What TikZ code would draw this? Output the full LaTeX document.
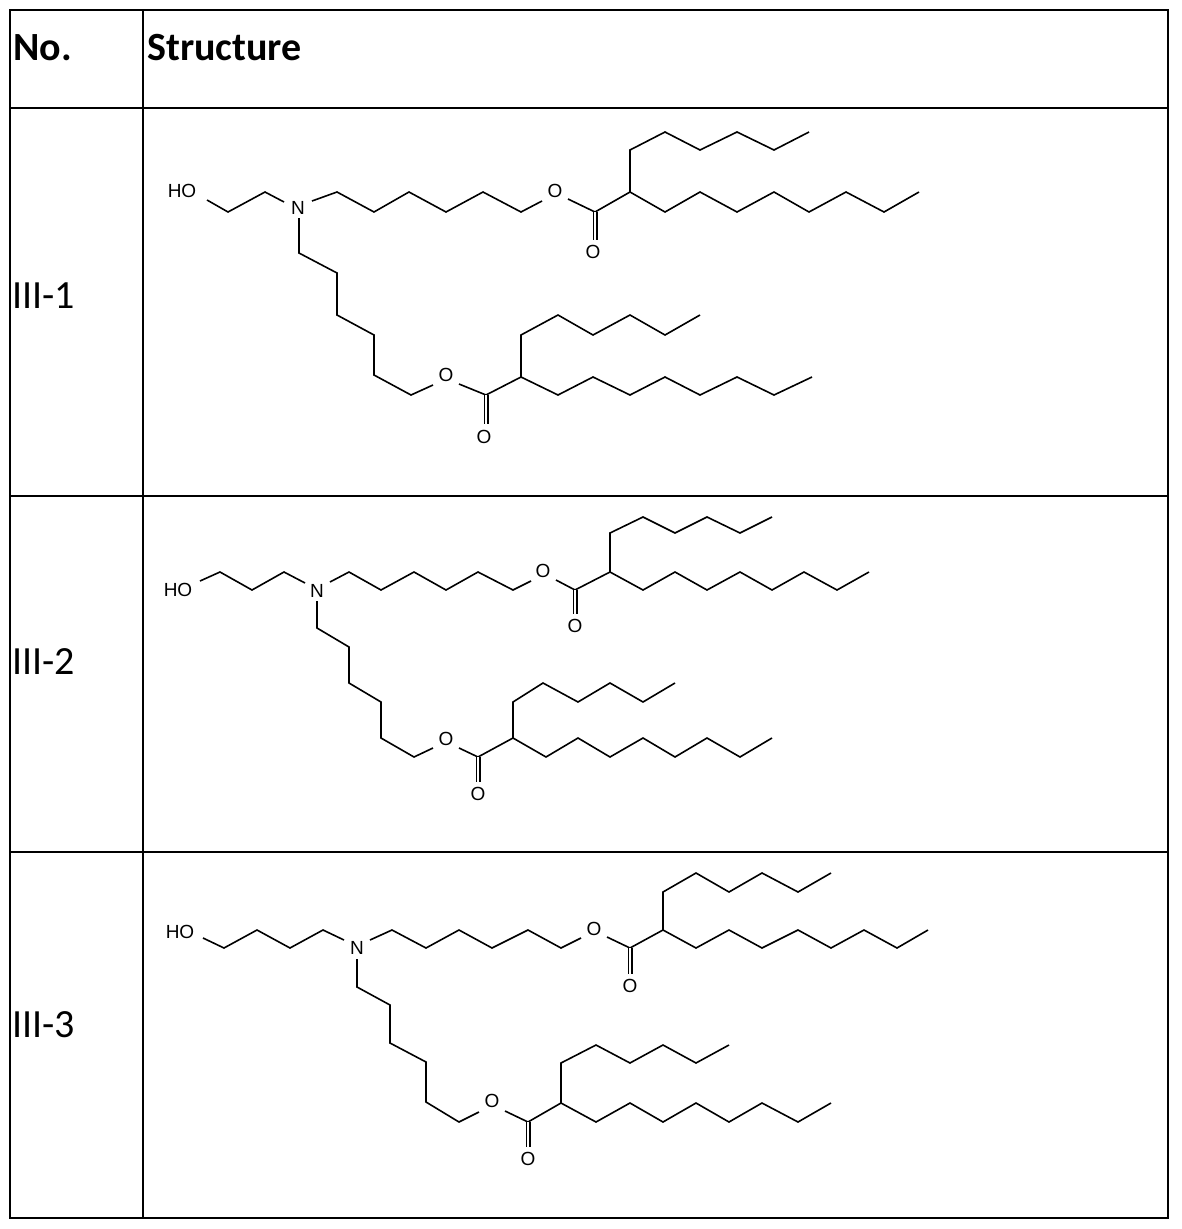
\documentclass[tikz,border=0pt]{standalone}
\usepackage{fontspec}
\setmainfont{Carlito}
\newfontfamily\atomfont{Liberation Sans}
\begin{document}
\begin{tikzpicture}[x=1pt,y=-1pt,
  bond/.style={line width=1.6pt,line join=miter},
  dbl/.style={line width=1.4pt,double distance=2.2pt},
  atom/.style={font=\atomfont\fontsize{19}{19}\selectfont,inner sep=0pt},
  grid/.style={line width=1.6pt},
  hdr/.style={font=\bfseries\fontsize{40}{40}\selectfont,anchor=west,inner sep=0pt},
  lbl/.style={font=\fontsize{40}{40}\selectfont,anchor=west,inner sep=0pt}]
\useasboundingbox (0,0) rectangle (1181,1229);
\draw[grid] (10,10) rectangle (1168,1218);
\draw[grid] (143,10) -- (143,1218);
\draw[grid] (10,108) -- (1168,108);
\draw[grid] (10,496) -- (1168,496);
\draw[grid] (10,852) -- (1168,852);
\node[hdr] (hno) at (13,48) {No.};
\node[hdr] (hst) at (147,48) {Structure};
\node[lbl] (l1) at (12,296) {III-1};
\node[lbl] (l2) at (12,662) {III-2};
\node[lbl] (l3) at (12,1025) {III-3};

% ---------- III-1 ----------
\node[atom] (ho1) at (182,191) {HO};
\node[atom] (n1) at (298,208) {N};
\node[atom] (o1a) at (555,191) {O};
\node[atom] (o1b) at (593,252) {O};
\node[atom] (o1c) at (446,375) {O};
\node[atom] (o1d) at (484,437) {O};
\draw[bond] (207,200)--(228,212)--(265,192)--(284,202);
\draw[bond] (312,201)--(337,192)--(374,212)--(409,192)--(446,212)--(483,192)--(521,212)--(542,201);
\draw[bond] (568,199)--(595,212)--(630,192)--(665,212)--(700,192)--(737,212)--(774,192)--(809,212)--(846,192)--(884,212)--(919,192);
\draw[bond] (630,192)--(630,150)--(665,132)--(700,150)--(737,132)--(774,150)--(809,132);
\draw[dbl] (595,212)--(595,240);
\draw[bond] (299,218)--(299,253)--(337,273)--(337,315)--(374,335)--(374,375)--(411,395)--(433,385);
\draw[bond] (459,384)--(486,395)--(521,377)--(558,395)--(593,377)--(630,395)--(665,377)--(700,395)--(737,377)--(774,395)--(812,377);
\draw[bond] (521,377)--(521,335)--(558,315)--(593,335)--(630,315)--(665,335)--(700,315);
\draw[dbl] (486,395)--(486,424);

% ---------- III-2 ----------
\node[atom] (ho2) at (178,590) {HO};
\node[atom] (n2) at (317,591) {N};
\node[atom] (o2a) at (543,571) {O};
\node[atom] (o2b) at (575,626) {O};
\node[atom] (o2c) at (446,739) {O};
\node[atom] (o2d) at (478,794) {O};
\draw[bond] (200,581)--(220,572)--(252,590)--(284,572)--(305,583);
\draw[bond] (330,582)--(349,572)--(381,590)--(414,572)--(446,590)--(478,572)--(513,590)--(531,581);
\draw[bond] (556,580)--(575,590)--(610,572)--(643,590)--(675,572)--(707,590)--(740,572)--(772,590)--(804,572)--(837,590)--(869,572);
\draw[bond] (610,572)--(610,533)--(643,517)--(675,533)--(707,517)--(740,533)--(772,517);
\draw[dbl] (575,590)--(575,614);
\draw[bond] (317,601)--(317,628)--(349,647)--(349,683)--(381,702)--(381,738)--(414,757)--(433,748);
\draw[bond] (459,748)--(478,757)--(513,738)--(546,757)--(578,738)--(610,757)--(643,738)--(675,757)--(707,738)--(740,757)--(772,738);
\draw[bond] (513,738)--(513,702)--(543,683)--(578,702)--(610,683)--(643,702)--(675,683);
\draw[dbl] (478,757)--(478,782);

% ---------- III-3 ----------
\node[atom] (ho3) at (180,932) {HO};
\node[atom] (n3) at (357,948) {N};
\node[atom] (o3a) at (594,929) {O};
\node[atom] (o3b) at (630,986) {O};
\node[atom] (o3c) at (492,1101) {O};
\node[atom] (o3d) at (528,1159) {O};
\draw[bond] (203,938)--(224,948)--(257,930)--(290,948)--(323,930)--(344,940);
\draw[bond] (370,940)--(392,930)--(426,948)--(459,930)--(492,948)--(528,930)--(561,948)--(581,938);
\draw[bond] (607,937)--(630,948)--(663,930)--(696,948)--(729,930)--(762,948)--(798,930)--(831,948)--(864,930)--(897,948)--(928,930);
\draw[bond] (663,930)--(663,892)--(696,873)--(729,892)--(762,873)--(798,892)--(831,873);
\draw[dbl] (630,948)--(630,974);
\draw[bond] (357,959)--(357,987)--(390,1005)--(390,1043)--(426,1062)--(426,1102)--(459,1122)--(479,1112);
\draw[bond] (505,1111)--(528,1122)--(561,1103)--(596,1122)--(630,1103)--(663,1122)--(696,1103)--(729,1122)--(762,1103)--(798,1122)--(831,1103);
\draw[bond] (561,1103)--(561,1063)--(596,1045)--(630,1063)--(663,1045)--(696,1063)--(729,1045);
\draw[dbl] (528,1122)--(528,1147);
\end{tikzpicture}
\end{document}
